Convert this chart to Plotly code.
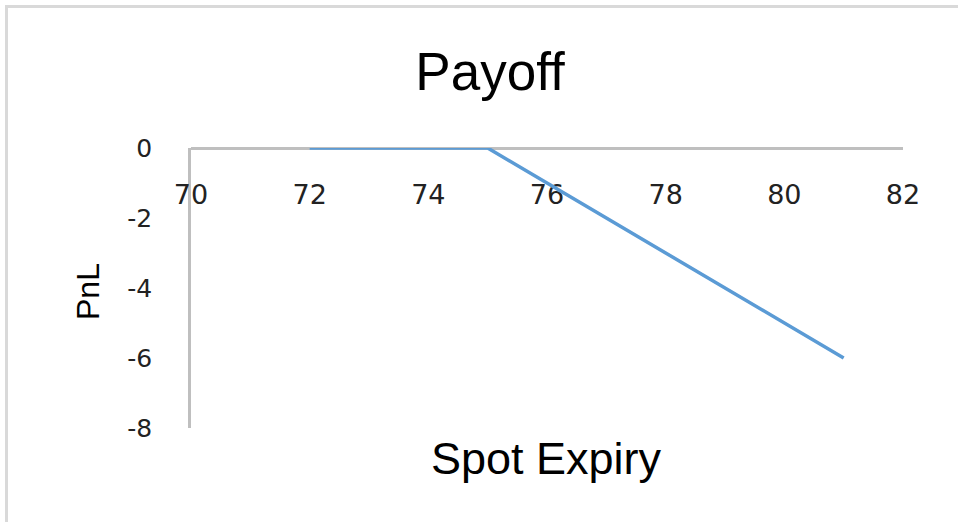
import plotly.graph_objects as go

spot = [72, 73, 74, 75, 76, 77, 78, 79, 80, 81]
pnl = [0, 0, 0, 0, -1, -2, -3, -4, -5, -6]
x_ticks = [70, 72, 74, 76, 78, 80, 82]
x_tick_labels = ["70", "72", "74", "76", "78", "80", "82"]
y_ticks = [0, -2, -4, -6, -8]
y_tick_labels = ["0", "-2", "-4", "-6", "-8"]
title_text = "Payoff"
x_title = "Spot Expiry"
y_title = "PnL"

W, H = 958, 522
L, R, T, B = 191, 55, 148, 94
pw, ph = W - L - R, H - T - B

def px_x(p):
    return (p - L) / pw

def px_y(p):
    return (H - B - p) / ph

fig = go.Figure()
fig.add_trace(go.Scatter(x=spot, y=pnl, mode="lines", cliponaxis=False,
                         line=dict(color="#5B9BD5", width=3.5), showlegend=False))

fig.update_layout(
    width=W, height=H,
    margin=dict(l=L, r=R, t=T, b=B),
    paper_bgcolor="white", plot_bgcolor="white",
    title=dict(text=title_text, x=490 / W, y=1 - 71 / H, xref="container", yref="container",
               xanchor="center", yanchor="middle",
               font=dict(family="Liberation Sans", size=53, color="#000000")),
    xaxis=dict(range=[70, 82], tickvals=x_ticks, ticktext=x_tick_labels,
               side="bottom", anchor="free", position=1.0, layer="below traces",
               ticklabelstandoff=22, showgrid=False, zeroline=False, showline=True,
               linecolor="#BFBFBF", linewidth=2.5, ticks="",
               tickfont=dict(family="DejaVu Sans", size=27, color="#222222")),
    yaxis=dict(range=[-8, 0], tickvals=y_ticks, ticktext=y_tick_labels,
               showgrid=False, zeroline=False, layer="below traces",
               showline=True, linecolor="#BFBFBF", linewidth=2.5, ticks="",
               ticklabelstandoff=31,
               tickfont=dict(family="DejaVu Sans", size=25, color="#222222")),
    annotations=[
        dict(text=x_title, xref="paper", yref="paper", x=px_x(546), y=px_y(458),
             showarrow=False, xanchor="center", yanchor="middle",
             font=dict(family="Liberation Sans", size=45, color="#000000")),
        dict(text=y_title, xref="paper", yref="paper", x=px_x(88), y=px_y(292),
             showarrow=False, xanchor="center", yanchor="middle", textangle=-90,
             font=dict(family="Liberation Sans", size=32, color="#000000")),
    ],
    shapes=[
        dict(type="line", xref="paper", yref="paper", x0=px_x(5), x1=px_x(958),
             y0=px_y(6.5), y1=px_y(6.5), line=dict(color="#D9D9D9", width=3)),
        dict(type="line", xref="paper", yref="paper", x0=px_x(6.5), x1=px_x(6.5),
             y0=px_y(5), y1=px_y(522), line=dict(color="#D9D9D9", width=3)),
    ],
)

fig.write_html("out.html", config={"displayModeBar": False},
               post_script="document.documentElement.style.margin='0';"
                           "document.documentElement.style.overflow='hidden';"
                           "document.body.style.margin='0';document.body.style.overflow='hidden';")
